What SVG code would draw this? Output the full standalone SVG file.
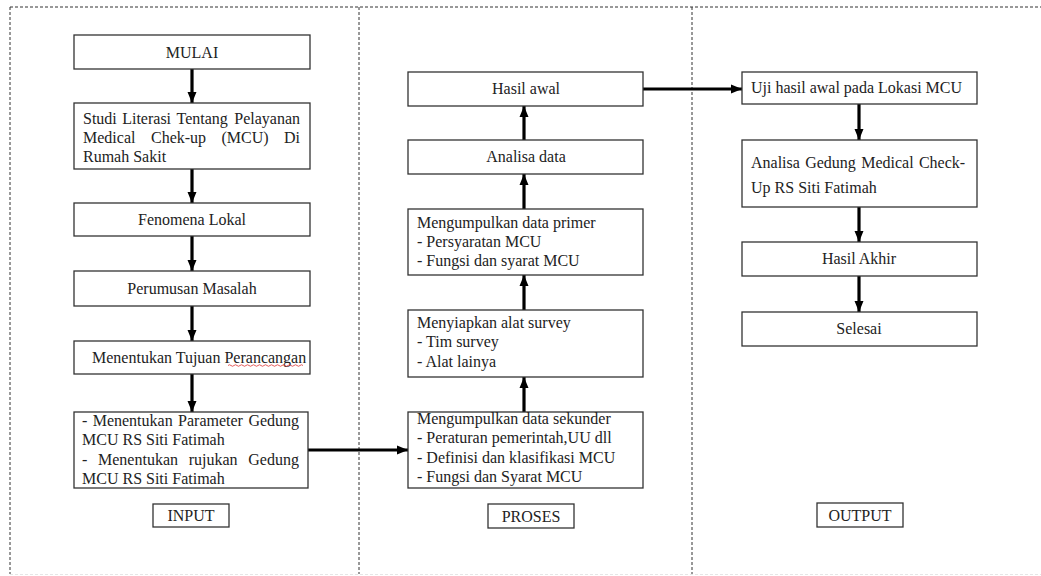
<svg xmlns="http://www.w3.org/2000/svg" width="1041" height="576" viewBox="0 0 1041 576">
<defs>
<style>
.frame{fill:none;stroke:#333;stroke-width:1;stroke-dasharray:3 2}
.box{fill:#fff;stroke:#333;stroke-width:1.3}
.t{font-family:"Liberation Serif","Times New Roman",serif;font-size:16px;fill:#222}
.c{text-anchor:middle}
.conn{stroke:#000;stroke-width:3.2;fill:none;marker-end:url(#ah)}
</style>
<marker id="ah" markerUnits="userSpaceOnUse" markerWidth="12" markerHeight="12" viewBox="0 0 12 12" refX="11" refY="6" orient="auto">
<path d="M0,1.5 L11,6 L0,10.5 Z" fill="#000"/>
</marker>
</defs>
<rect width="1041" height="576" fill="#fff"/>
<g id="frame">
<path class="frame" d="M10,7 H1041 M10,7 V574 M359,7 V574 M692,7 V574"/>
<path d="M10,574.5 H1041" stroke="#e6e6e6" stroke-width="1" stroke-dasharray="3 2"/>
</g>
<g id="connectors">
<path class="conn" d="M192,69 V103"/>
<path class="conn" d="M192,169 V203"/>
<path class="conn" d="M192,236 V271"/>
<path class="conn" d="M192,306 V341"/>
<path class="conn" d="M192,374 V412"/>
<path class="conn" d="M308,450 H408"/>
<path class="conn" d="M524,412 V377"/>
<path class="conn" d="M524,310 V275"/>
<path class="conn" d="M524,209 V174"/>
<path class="conn" d="M524,140 V106"/>
<path class="conn" d="M643,89 H742"/>
<path class="conn" d="M859,104 V140"/>
<path class="conn" d="M859,207 V242"/>
<path class="conn" d="M859,276 V312"/>
</g>
<g id="mulai">
<rect class="box" x="74" y="35" width="236" height="34"/>
<text class="t c" x="192" y="58">MULAI</text>
</g>
<g id="studi">
<rect class="box" x="74" y="103" width="236" height="66"/>
<text class="t" y="124"><tspan x="83">Studi</tspan><tspan x="122.2">Literasi</tspan><tspan x="176.5">Tentang</tspan><tspan x="234.3">Pelayanan</tspan></text>
<text class="t" y="143"><tspan x="83">Medical</tspan><tspan x="151">Chek-up</tspan><tspan x="221.5">(MCU)</tspan><tspan x="284">Di</tspan></text>
<text class="t" x="83" y="162">Rumah Sakit</text>
</g>
<g id="fenomena">
<rect class="box" x="74" y="203" width="236" height="33"/>
<text class="t c" x="192" y="225">Fenomena Lokal</text>
</g>
<g id="perumusan">
<rect class="box" x="74" y="271" width="236" height="35"/>
<text class="t c" x="192" y="294">Perumusan Masalah</text>
</g>
<g id="tujuan">
<rect class="box" x="74" y="341" width="236" height="33"/>
<text class="t" x="92" y="363">Menentukan Tujuan Perancangan</text>
<path d="M228,365.5 q1.5,-1.5 3,0 t3,0 t3,0 t3,0 t3,0 t3,0 t3,0 t3,0 t3,0 t3,0 t3,0 t3,0 t3,0 t3,0 t3,0 t3,0 t3,0 t3,0 t3,0 t3,0 t3,0 t3,0 t3,0 t3,0 t3,0" fill="none" stroke="#d33" stroke-width="0.8"/>
</g>
<g id="parameter">
<rect class="box" x="74" y="412" width="234" height="76"/>
<text class="t" y="426"><tspan x="82">-</tspan><tspan x="92.7">Menentukan</tspan><tspan x="178.1">Parameter</tspan><tspan x="248.4">Gedung</tspan></text>
<text class="t" x="82" y="445">MCU RS Siti Fatimah</text>
<text class="t" y="465"><tspan x="82">-</tspan><tspan x="98">Menentukan</tspan><tspan x="188.7">rujukan</tspan><tspan x="248.3">Gedung</tspan></text>
<text class="t" x="82" y="484">MCU RS Siti Fatimah</text>
</g>
<g id="input">
<rect class="box" x="153" y="504" width="76" height="23"/>
<text class="t c" x="191" y="521">INPUT</text>
</g>
<g id="hasil-awal">
<rect class="box" x="408" y="72" width="235" height="34"/>
<text class="t c" x="526" y="94">Hasil awal</text>
</g>
<g id="analisa-data">
<rect class="box" x="408" y="140" width="235" height="34"/>
<text class="t c" x="526" y="162">Analisa data</text>
</g>
<g id="primer">
<rect class="box" x="408" y="209" width="235" height="66"/>
<text class="t" x="417" y="228">Mengumpulkan data primer</text>
<text class="t" x="417" y="247">- Persyaratan MCU</text>
<text class="t" x="417" y="266">- Fungsi dan syarat MCU</text>
</g>
<g id="survey">
<rect class="box" x="408" y="310" width="235" height="67"/>
<text class="t" x="417" y="328">Menyiapkan alat survey</text>
<text class="t" x="417" y="347">- Tim survey</text>
<text class="t" x="417" y="367">- Alat lainya</text>
</g>
<g id="sekunder">
<rect class="box" x="408" y="412" width="235" height="76"/>
<text class="t" x="417" y="424">Mengumpulkan data sekunder</text>
<text class="t" x="417" y="443">- Peraturan pemerintah,UU dll</text>
<text class="t" x="417" y="463">- Definisi dan klasifikasi MCU</text>
<text class="t" x="417" y="482">- Fungsi dan Syarat MCU</text>
</g>
<g id="proses">
<rect class="box" x="488" y="504" width="86" height="24"/>
<text class="t c" x="531" y="522">PROSES</text>
</g>
<g id="uji">
<rect class="box" x="742" y="72" width="235" height="32"/>
<text class="t" x="751" y="93">Uji hasil awal pada Lokasi MCU</text>
</g>
<g id="analisa-gedung">
<rect class="box" x="742" y="140" width="235" height="67"/>
<text class="t" y="168"><tspan x="751">Analisa</tspan><tspan x="805.2">Gedung</tspan><tspan x="861.2">Medical</tspan><tspan x="918.9">Check-</tspan></text>
<text class="t" x="751" y="193">Up RS Siti Fatimah</text>
</g>
<g id="hasil-akhir">
<rect class="box" x="742" y="242" width="235" height="34"/>
<text class="t c" x="859" y="264">Hasil Akhir</text>
</g>
<g id="selesai">
<rect class="box" x="742" y="312" width="235" height="34"/>
<text class="t c" x="859" y="334">Selesai</text>
</g>
<g id="output">
<rect class="box" x="817" y="503" width="86" height="24"/>
<text class="t c" x="860" y="521">OUTPUT</text>
</g>
</svg>
